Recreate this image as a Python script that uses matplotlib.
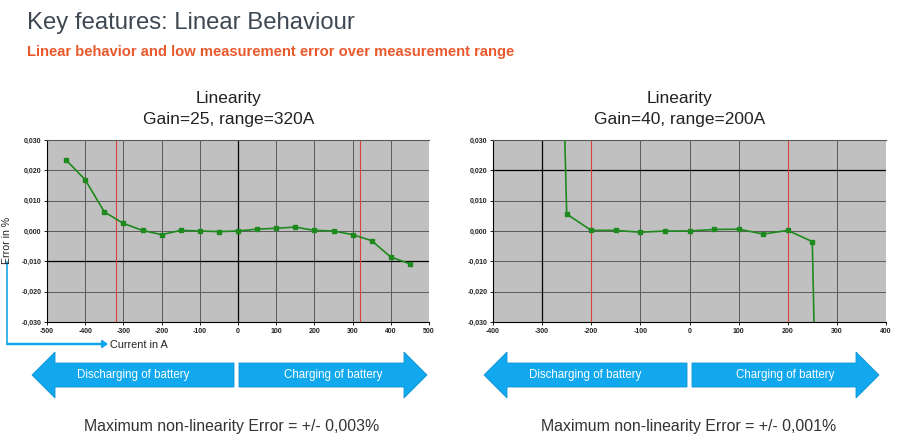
import matplotlib.pyplot as plt
from matplotlib.patches import FancyArrow
from matplotlib.ticker import FuncFormatter

plt.rcParams['font.family'] = ['Liberation Sans', 'DejaVu Sans']
plt.rcParams['axes.unicode_minus'] = False

# left chart: gain 25, range 320 A
current_g25 = [-450, -400, -350, -300, -250, -200, -150, -100, -50, 0,
               50, 100, 150, 200, 250, 300, 350, 400, 450]
error_g25 = [0.0234, 0.0169, 0.0063, 0.0025, 0.0002, -0.0012, 0.0002, 0.0000, -0.0002, 0.0000,
             0.0006, 0.0009, 0.0013, 0.0002, 0.0000, -0.0012, -0.0032, -0.0086, -0.0108]

# right chart: gain 40, range 200 A (end points far outside the scale)
current_g40 = [-300, -250, -200, -150, -100, -50, 0, 50, 100, 150, 200, 250, 300]
error_g40 = [0.33, 0.0056, 0.0002, 0.0002, -0.0004, 0.0000, 0.0000,
             0.0005, 0.0006, -0.0010, 0.0002, -0.0035, -0.39]

range_g25 = 320
range_g40 = 200

W, H = 900, 442
fig = plt.figure(figsize=(9, 4.42), dpi=100)


def px(x, y):
    return x / W, 1 - y / H


def comma_fmt(v, pos):
    return ('%.3f' % v).replace('.', ',').replace('-0,000', '0,000')


def draw_chart(rect, xs, ys, xlim, xstep, rng, black_x, black_y):
    ax = fig.add_axes(rect)
    ax.set_facecolor('#c0c0c0')
    ax.set_xlim(*xlim)
    ax.set_ylim(-0.03, 0.03)
    ax.set_xticks(range(xlim[0], xlim[1] + 1, xstep))
    ax.set_yticks([-0.03, -0.02, -0.01, 0.0, 0.01, 0.02, 0.03])
    ax.yaxis.set_major_formatter(FuncFormatter(comma_fmt))
    ax.tick_params(labelsize=5, length=2.5, width=0.6, pad=1.5)
    for lab in ax.get_xticklabels() + ax.get_yticklabels():
        lab.set_fontweight('bold')
        lab.set_color('#222222')
    ax.grid(True, color='#5a5a5a', linewidth=0.7, zorder=0.5)
    ax.set_axisbelow(True)
    ax.axvline(black_x, color='black', linewidth=0.9, zorder=1)
    ax.axhline(black_y, color='black', linewidth=0.9, zorder=1)
    for r in (-rng, rng):
        ax.axvline(r, color='#e0403a', linewidth=0.8, zorder=2)
    ax.spines['right'].set_visible(False)
    ax.spines['top'].set_color('#5a5a5a')
    ax.spines['left'].set_linewidth(0.8)
    ax.spines['bottom'].set_linewidth(0.8)
    ax.plot(xs, ys, color='#1e8a1e', linewidth=1.2, marker='s', markersize=2.6, zorder=3)
    return ax


draw_chart([47 / W, 120 / H, 382 / W, 182 / H], current_g25, error_g25,
           (-500, 500), 100, range_g25, 0, -0.01)
draw_chart([493 / W, 120 / H, 393 / W, 182 / H], current_g40, error_g40,
           (-400, 400), 100, range_g40, -300, 0.02)

# header
fig.text(*px(27, 23), 'Key features: Linear Behaviour', fontsize=17.2, color='#3d4853',
         va='center', ha='left')
fig.text(*px(27, 52), 'Linear behavior and low measurement error over measurement range',
         fontsize=10.6, color='#e8592c', fontweight='bold', va='center', ha='left')

# chart titles
for cx, gain, rng in [(229, 25, range_g25), (680, 40, range_g40)]:
    fig.text(*px(cx, 98), 'Linearity', fontsize=12.5, color='#222222', ha='center', va='center')
    fig.text(*px(cx, 120), 'Gain=%d, range=%dA' % (gain, rng), fontsize=12.5, color='#222222',
             ha='center', va='center')

# axis labels with blue bracket arrow
fig.text(*px(7, 240), 'Error in %', fontsize=7.6, rotation=90, color='#222222',
         ha='center', va='center')
blue = '#14a6ec'
fig.add_artist(plt.Line2D([7 / W, 7 / W], [1 - 262 / H, 1 - 344 / H], color=blue, linewidth=1.2))
fig.add_artist(FancyArrow(7 / W, 1 - 344 / H, 100 / W, 0, width=0.0025, head_width=0.016,
                          head_length=0.006, length_includes_head=True, color=blue,
                          transform=fig.transFigure))
fig.text(*px(110, 345), 'Current in A', fontsize=7.8, color='#222222', ha='left', va='center')


# big direction arrows
def block_arrow(x_tail, x_tip, label):
    y = 1 - 375 / H
    fig.add_artist(FancyArrow(x_tail / W, y, (x_tip - x_tail) / W, 0, width=24 / H,
                              head_width=46 / H, head_length=23 / W, length_includes_head=True,
                              facecolor='#12a8ee', edgecolor='#0e93d4', linewidth=0.6,
                              transform=fig.transFigure))
    mid = (x_tail + x_tip) / 2
    fig.text(*px(mid, 375), label, fontsize=8.3, color='white', ha='center', va='center')


block_arrow(234, 32, 'Discharging of battery')
block_arrow(239, 427, 'Charging of battery')
block_arrow(687, 484, 'Discharging of battery')
block_arrow(692, 879, 'Charging of battery')

fig.text(*px(232, 427), 'Maximum non-linearity Error = +/- 0,003%', fontsize=11.4,
         color='#333333', ha='center', va='center')
fig.text(*px(689, 427), 'Maximum non-linearity Error = +/- 0,001%', fontsize=11.4,
         color='#333333', ha='center', va='center')

fig.savefig('out.png', dpi=100, facecolor='white')
